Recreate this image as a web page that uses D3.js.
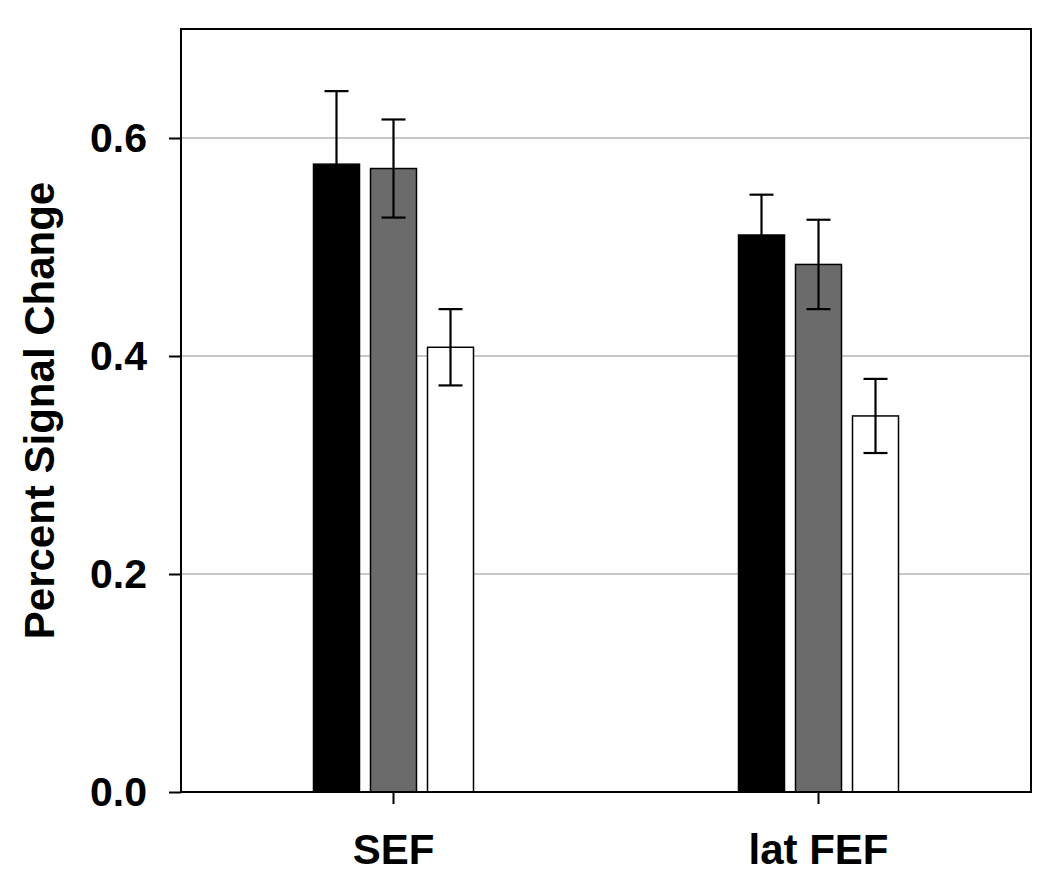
<!DOCTYPE html>
<html>
<head>
<meta charset="utf-8">
<script src="https://cdn.jsdelivr.net/npm/d3@7"></script>
<style>
  html, body { margin: 0; padding: 0; background: #fff; }
  svg { display: block; }
  text { font-family: "Liberation Sans", Arial, sans-serif; font-weight: bold; fill: #000; }
</style>
</head>
<body>
<svg id="chart" width="1050" height="891"></svg>
<script>
// Data
const categories = ["SEF", "lat FEF"];
const seriesNames = ["Condition 1", "Condition 2", "Condition 3"];
const seriesColors = ["#000000", "#6b6b6b", "#ffffff"];
const means = [
  [0.576, 0.511],   // black
  [0.572, 0.484],   // gray
  [0.408, 0.345]    // white
];
const errors = [
  [0.067, 0.037],
  [0.045, 0.041],
  [0.035, 0.034]
];
const yTicks = [0.0, 0.2, 0.4, 0.6];
const yLabel = "Percent Signal Change";

const svg = d3.select("#chart");
const margin = { left: 181, right: 1050 - 1031, top: 29, bottom: 891 - 792 };
const W = 1050 - margin.left - margin.right;
const H = 891 - margin.top - margin.bottom;
const g = svg.append("g").attr("transform", `translate(${margin.left},${margin.top})`);

const x0 = d3.scaleBand().domain(categories).range([0, W]).paddingInner(0).paddingOuter(0);
const groupWidth = 160;
const x1 = d3.scaleBand().domain(d3.range(seriesNames.length)).range([0, groupWidth]).paddingInner(11 / 57).paddingOuter(0);
const y = d3.scaleLinear().domain([0, 0.7]).range([H, 0]);

// gridlines
g.append("g").selectAll("line").data(yTicks.filter(t => t > 0)).join("line")
  .attr("x1", 0).attr("x2", W)
  .attr("y1", d => y(d)).attr("y2", d => y(d))
  .attr("stroke", "#b4b4b4").attr("stroke-width", 1.5);

// bars
const data = [];
categories.forEach((c, ci) => {
  seriesNames.forEach((s, si) => {
    data.push({ cat: c, si, v: means[si][ci], e: errors[si][ci] });
  });
});
const gx = c => x0(c) + (x0.bandwidth() - groupWidth) / 2;

g.append("g").selectAll("rect").data(data).join("rect")
  .attr("x", d => gx(d.cat) + x1(d.si))
  .attr("width", x1.bandwidth())
  .attr("y", d => y(d.v))
  .attr("height", d => y(0) - y(d.v))
  .attr("fill", d => seriesColors[d.si])
  .attr("stroke", "#000").attr("stroke-width", 1.5);

// error bars
const capW = 24;
const eb = g.append("g").selectAll("g").data(data).join("g")
  .attr("stroke", "#000").attr("stroke-width", 2.2);
eb.append("line")
  .attr("x1", d => gx(d.cat) + x1(d.si) + x1.bandwidth() / 2)
  .attr("x2", d => gx(d.cat) + x1(d.si) + x1.bandwidth() / 2)
  .attr("y1", d => y(d.v - d.e)).attr("y2", d => y(d.v + d.e));
eb.append("line")
  .attr("x1", d => gx(d.cat) + x1(d.si) + x1.bandwidth() / 2 - capW / 2)
  .attr("x2", d => gx(d.cat) + x1(d.si) + x1.bandwidth() / 2 + capW / 2)
  .attr("y1", d => y(d.v + d.e)).attr("y2", d => y(d.v + d.e));
eb.append("line")
  .attr("x1", d => gx(d.cat) + x1(d.si) + x1.bandwidth() / 2 - capW / 2)
  .attr("x2", d => gx(d.cat) + x1(d.si) + x1.bandwidth() / 2 + capW / 2)
  .attr("y1", d => y(d.v - d.e)).attr("y2", d => y(d.v - d.e));

// frame
g.append("rect").attr("x", 0).attr("y", 0).attr("width", W).attr("height", H)
  .attr("fill", "none").attr("stroke", "#000").attr("stroke-width", 2);

// y axis
const yAxis = g.append("g").call(d3.axisLeft(y).tickValues(yTicks).tickFormat(d3.format(".1f")).tickSize(12).tickPadding(22));
yAxis.select(".domain").remove();
yAxis.selectAll(".tick line").attr("stroke", "#000").attr("stroke-width", 2);
yAxis.selectAll(".tick text").style("font-size", "41px").attr("fill", "#000");

// x axis
const xAxis = g.append("g").attr("transform", `translate(0,${H})`)
  .call(d3.axisBottom(x0).tickSize(12).tickPadding(30));
xAxis.select(".domain").remove();
xAxis.selectAll(".tick line").attr("stroke", "#000").attr("stroke-width", 2);
xAxis.selectAll(".tick text").style("font-size", "42px").attr("fill", "#000");

// y label
svg.append("text")
  .attr("transform", `translate(54,${margin.top + H / 2}) rotate(-90)`)
  .attr("text-anchor", "middle")
  .style("font-size", "42px")
  .text(yLabel);
</script>
</body>
</html>
